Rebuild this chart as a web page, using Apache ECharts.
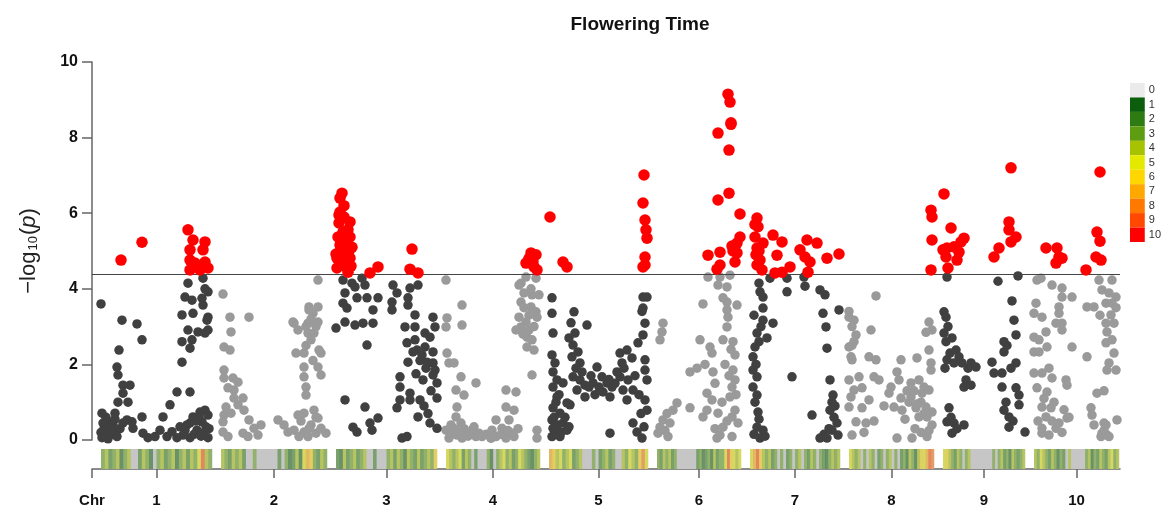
<!DOCTYPE html>
<html><head><meta charset="utf-8">
<script src="https://cdn.jsdelivr.net/npm/echarts@6/dist/echarts.min.js"></script>
<style>html,body{margin:0;padding:0;background:#fff}#c{width:1164px;height:512px}</style>
</head><body><div id="c"></div>
<script>
// ---------------- DATA ----------------
const TITLE = 'Flowering Time';
const CHROMOSOMES = ['1','2','3','4','5','6','7','8','9','10'];
const CHR_LENGTHS = [111, 106, 101, 94, 99, 84, 90, 85, 82, 85];   // genome units (relative)
const CHR_GAP = 9;
const LEAD = 9;
const THRESHOLD = 4.38;
const Y_MIN = 0, Y_MAX = 10, Y_STEP = 2;
const DENSITY_LEVELS = ['0','1','2','3','4','5','6','7','8','9','10'];
const DENSITY_COLORS = ['#ebebeb','#0b5e0b','#2e7b14','#5e9c12','#a6c200','#e3ea00','#ffd600','#ffa800','#ff7800','#ff4800','#ff0000'];

// [position within chromosome, -log10(p)]
const chr1 = [
[20,4.76],[41,5.23],[87,5.56],[92,5.29],[104,5.24],[89,5.03],[102,5.03],[89,4.76],[94,4.68],[104,4.71],[107,4.55],[89,4.5],[99,4.5],[92,4.58],
[87,4.15],[102,4.28],[104,4.0],[107,3.92],[84,3.78],[91,3.7],[101,3.75],[102,3.57],[81,3.31],[92,3.35],[107,3.25],[106,3.17],[87,2.91],[97,2.86],[104,2.83],[107,2.91],[81,2.6],[91,2.65],[89,2.43],[81,2.06],[0,3.6],[21,3.17],[36,3.07],[41,2.65],[18,2.38],[16,1.93],[17,1.72],[22,1.45],[29,1.45],[22,1.24],[76,1.27],[89,1.27],[17,1.0],[27,1.0],[69,0.93],[1,0.71],[14,0.71],[26,0.53],[41,0.61],[62,0.61],
[2,0.45],[9,0.35],[4,0.18],[12,0.22],[1,0.06],[7,0.03],[16,0.09],[22,0.45],[31,0.48],[32,0.31],[42,0.18],[47,0.06],[54,0.09],[59,0.26],[66,0.09],[71,0.22],[76,0.06],[79,0.35],[84,0.26],[89,0.45],[92,0.61],[99,0.74],[104,0.79],[107,0.66],[101,0.48],[96,0.26],[102,0.18],[107,0.06],[89,0.06],[82,0.13],
[3,0.3],[6,0.5],[10,0.15],[5,0.6],[8,0.25],[12,0.4],[14,0.55],[19,0.3],[0,0.2],[3,0.12],[95,0.5],[98,0.62],[105,0.35],[86,0.4],[93,0.15],[100,0.1],[108,0.3]
];
const chr2 = [
[2,3.86],[97,4.23],[9,3.25],[28,3.25],[10,2.86],[3,2.46],[9,2.38],[3,1.85],[3,1.64],[12,1.64],[17,1.53],[7,1.38],[13,1.32],[13,1.11],[22,1.11],[17,0.93],[5,0.87],[23,0.79],[3,0.66],[10,0.71],[2,0.48],[28,0.53],[33,0.31],[40,0.4],[2,0.21],[22,0.18],[27,0.09],[37,0.13],[7,0.09],
[88,3.52],[97,3.52],[92,3.35],[73,3.09],[77,2.91],[87,3.09],[97,3.12],[87,2.83],[93,2.83],[90,2.65],[75,2.3],[83,2.3],[98,2.38],[100,2.3],[83,1.93],[97,1.93],[100,1.72],[83,1.67],[85,1.4],[85,1.19],[57,0.53],[63,0.4],[67,0.21],[73,0.26],[77,0.66],[83,0.71],[93,0.79],[97,0.58],[90,0.4],[83,0.21],[78,0.09],[87,0.09],[95,0.18],[105,0.18],[100,0.31],[72,3.12],[88,3.44],[85,3.0],[90,3.2],[95,3.0],[85,2.5],[92,2.1],[80,0.5],[88,0.3],[95,0.6]
];
const chr3 = [
[6,6.53],[4,6.4],[4,6.03],[3,5.74],[14,5.77],[7,5.5],[12,5.56],[2,5.37],[9,5.34],[14,5.37],[4,5.16],[11,5.16],[16,5.1],[6,4.97],[12,4.95],[1,4.81],[9,4.76],[14,4.81],[1,4.55],[11,4.55],[12,4.44],[34,4.42],[42,4.58],[76,5.05],[74,4.52],[82,4.42],[0,4.92],[8,5.9],[10,5.25],[13,5.0],[5,5.05],[10,4.65],[7,4.62],[15,4.6],[3,5.95],[8,6.2],
[7,4.23],[16,4.15],[26,4.28],[19,4.05],[29,4.1],[9,3.89],[21,3.76],[31,3.76],[42,3.76],[7,3.62],[11,3.49],[37,3.44],[57,4.1],[61,3.89],[56,3.65],[56,3.44],[74,4.02],[82,4.1],[72,3.76],[72,3.57],[9,3.12],[0,2.96],[19,3.04],[27,3.09],[37,3.09],[31,2.51],[79,3.31],[97,3.25],[99,2.99],[69,2.99],[79,2.99],[71,2.57],[79,2.65],[89,2.83],[94,2.72],[81,2.38],[89,2.46],[97,2.33],[77,2.33],[72,2.06],[86,2.25],[91,2.06],[97,2.04],[99,1.85],[97,1.72],[87,1.59],[101,1.51],[101,1.11],[84,1.06],[74,1.24],[74,1.06],[64,1.67],[64,1.4],[64,1.06],[61,0.85],[9,1.06],[29,0.87],[34,0.45],[42,0.58],[36,0.26],[17,0.34],[21,0.21],[82,0.61],[94,0.45],[101,0.31],[66,0.05],[71,0.09],[84,2.1],[90,1.9],[80,1.75],[95,1.3],[88,0.9],[92,0.7]
];
const chr4 = [
[80,4.68],[85,4.95],[90,4.9],[88,4.58],[91,4.5],[83,4.8],[87,4.72],
[0,4.23],[16,3.57],[1,3.23],[0,2.99],[16,3.04],[1,2.3],[3,2.04],[8,2.04],[15,1.67],[30,1.51],[10,1.32],[18,1.19],[11,0.87],[10,0.61],[15,0.45],[0,0.26],[6,0.18],[20,0.18],[26,0.26],[33,0.18],[3,0.05],[16,0.05],[30,0.09],[36,0.09],[11,0.13],[8,0.3],[13,0.22],[22,0.1],[28,0.35],[40,0.15],[45,0.05],[5,0.4],[18,0.3],
[60,1.32],[70,1.27],[60,0.87],[68,0.79],[50,0.53],[63,0.53],[46,0.26],[56,0.31],[66,0.18],[50,0.09],[60,0.05],[68,0.09],[45,0.05],[55,0.15],[62,0.25],[72,0.3],[86,1.72],[91,0.26],[91,0.05],
[80,4.31],[90,4.28],[75,4.15],[78,3.89],[86,3.84],[93,3.84],[75,3.65],[85,3.52],[90,3.39],[91,3.25],[73,3.25],[80,3.12],[75,2.99],[83,2.91],[70,2.91],[81,2.72],[86,2.65],[81,2.46],[88,2.38],[78,3.5],[83,3.3],[88,3.0],[73,4.1],[85,4.0],[77,2.8]
];
const chr5 = [
[1,5.9],[14,4.71],[18,4.58],[95,7.01],[94,6.27],[96,5.82],[97,5.56],[98,5.34],[96,4.84],[96,4.63],[94,4.58],
[3,3.76],[3,3.35],[4,2.83],[3,2.25],[6,2.04],[4,1.8],[8,1.59],[4,1.4],[14,1.51],[8,1.14],[18,0.98],[4,0.85],[11,0.71],[3,0.53],[14,0.45],[4,0.31],[18,0.26],[3,0.09],[11,0.09],[21,0.93],[25,3.39],[38,3.04],[26,2.83],[24,2.51],[29,2.33],[23,2.2],[31,2.04],[24,1.67],[31,1.59],[36,1.45],[28,1.32],[36,1.14],[48,1.93],[53,1.67],[58,1.51],[44,1.51],[54,1.27],[61,1.14],[63,1.4],[71,2.3],[78,2.38],[73,2.04],[83,2.17],[71,1.67],[79,1.59],[74,1.32],[84,1.32],[78,1.06],[61,0.18],[89,2.57],[94,2.78],[96,3.09],[94,3.49],[94,3.78],[98,3.78],[93,3.4],[96,2.12],[96,1.85],[98,1.59],[96,1.06],[98,0.79],[84,0.45],[88,0.21],[93,0.05],
[5,0.6],[9,0.4],[12,0.2],[7,1.0],[10,1.2],[16,0.6],[20,0.35],[6,0.15],[42,1.7],[50,1.4],[66,1.5],[68,1.8],[75,1.9],[86,1.7],[90,1.2],[92,0.7],[95,0.35],[60,1.6],[46,1.2],[40,1.4],[33,1.8],[27,1.9],[20,2.7],[22,3.1]
];
const chr6 = [
[71,9.15],[73,8.94],[74,8.39],[61,8.12],[72,7.67],[72,6.53],[61,6.35],[83,5.98],[83,5.37],[80,5.21],[75,5.13],[63,4.97],[51,4.89],[80,4.95],[78,4.71],[63,4.63],[60,4.52],[74,8.35],[76,5.0],
[51,4.31],[63,4.31],[73,4.36],[61,4.1],[70,4.05],[66,3.76],[70,3.65],[80,3.57],[70,3.44],[71,3.25],[46,3.6],[70,2.99],[66,2.65],[76,2.6],[43,2.65],[53,2.46],[55,2.3],[78,2.25],[33,1.8],[56,1.8],[76,1.85],[78,1.59],[75,1.4],[50,1.24],[55,1.06],[73,1.14],[78,0.79],[75,0.61],[61,0.71],[46,0.61],[50,0.79],[81,0.45],[66,0.34],[63,0.13],[60,0.05],[75,0.09],[33,0.85],[6,3.09],[5,2.86],[3,2.65],[20,0.98],[16,0.79],[10,0.7],[6,0.53],[3,0.34],[1,0.18],[11,0.09],[13,0.45],[8,0.25],
[68,2.0],[72,1.7],[65,1.0],[70,0.5],[58,0.3],[79,1.2],[74,2.4],[40,1.9],[48,2.0],[58,1.5]
];
const chr7 = [
[7,5.87],[8,5.64],[5,5.37],[13,5.21],[7,5.08],[10,4.76],[7,4.63],[12,4.5],[23,5.42],[32,5.24],[27,4.89],[25,4.42],[32,4.44],[40,4.58],[57,5.29],[67,5.21],[50,5.03],[55,4.84],[60,4.71],[58,4.44],[77,4.81],[89,4.92],[5,5.7],[9,5.0],[6,4.9],
[9,4.15],[10,3.92],[20,4.28],[37,4.28],[37,3.92],[54,4.31],[55,4.07],[70,3.97],[75,3.84],[89,3.44],[73,3.35],[76,2.99],[77,2.43],[42,1.67],[13,3.78],[13,3.49],[13,3.17],[23,3.09],[17,2.7],[7,2.83],[5,2.46],[3,2.2],[3,1.85],[7,1.67],[3,1.4],[7,1.19],[8,0.74],[7,0.34],[13,0.26],[10,0.05],[80,1.59],[83,1.19],[82,1.0],[80,0.79],[87,0.45],[82,0.26],[77,0.05],[70,0.05],[88,0.13],[62,0.66],[5,1.0],[9,0.55],[4,0.15],[15,0.1],[84,0.6],[79,0.3],[74,0.15],[85,0.9],[6,2.0],[9,2.6],[11,3.0],[4,3.3]
];
const chr8 = [
[82,6.08],[83,5.9],[83,5.29],[82,4.5],
[27,3.81],[0,3.25],[5,3.17],[3,3.0],[7,2.78],[5,2.6],[0,2.46],[2,2.2],[3,2.12],[20,2.2],[27,2.12],[22,2.91],[0,1.59],[10,1.67],[25,1.67],[30,1.59],[5,1.32],[13,1.38],[2,1.14],[20,1.06],[0,0.87],[13,0.85],[7,0.48],[17,0.45],[3,0.13],[52,2.12],[68,2.17],[50,1.59],[62,1.51],[70,1.59],[40,1.24],[52,1.11],[62,1.14],[73,1.24],[80,1.32],[45,0.87],[53,0.79],[60,1.0],[67,0.85],[77,0.87],[70,0.61],[78,0.61],[83,0.74],[83,0.4],[48,0.05],[63,0.05],[78,0.09],[82,1.85],[82,2.04],[80,2.38],[83,2.91],[80,3.12],[77,2.85],[0,3.4],[3,2.5],[65,1.3],[72,1.0],[75,1.4],[58,1.3],[68,0.95],[75,0.7],[66,0.3],[72,0.2],[56,0.55],[80,0.25],[35,0.9],[42,1.4],[48,1.8],[15,0.2],[25,0.5]
];
const chr9 = [
[1,6.51],[8,5.61],[0,5.03],[4,5.08],[11,5.11],[18,5.24],[21,5.34],[3,4.84],[14,4.76],[5,4.55],[16,4.97],[51,4.84],[56,5.08],[66,5.77],[66,5.56],[68,5.24],[73,5.37],[68,7.2],
[4,4.31],[55,4.2],[75,4.34],[1,3.39],[3,3.25],[1,2.83],[3,2.6],[9,2.7],[13,2.38],[4,2.12],[11,2.04],[19,2.04],[28,2.04],[33,1.93],[23,1.59],[21,1.4],[28,1.45],[6,0.85],[4,0.48],[11,0.45],[21,0.4],[9,0.18],[69,3.68],[71,3.17],[73,2.78],[61,2.6],[61,2.33],[49,2.06],[51,1.77],[59,1.77],[73,2.04],[59,1.4],[73,1.38],[76,1.19],[76,0.93],[61,0.79],[66,0.61],[66,0.34],[82,0.21],[7,2.3],[16,2.2],[25,1.9],[5,3.0],[2,1.9],[8,0.6],[14,0.3],[63,1.0],[68,1.9],[64,2.5],[70,0.5]
];
const chr10 = [
[12,5.08],[23,5.08],[25,4.84],[22,4.68],[28,4.81],[52,4.5],[62,4.84],[67,4.76],[63,5.5],[66,5.26],[66,7.09],
[3,4.23],[7,4.28],[18,4.1],[28,4.02],[28,3.78],[38,3.78],[2,3.62],[25,3.52],[0,3.35],[8,3.25],[25,3.35],[22,3.09],[28,3.09],[12,2.86],[28,2.91],[0,2.72],[5,2.65],[13,2.46],[0,2.33],[5,2.33],[38,2.46],[15,1.9],[0,1.77],[8,1.77],[18,1.64],[32,1.59],[33,1.45],[3,1.38],[13,1.27],[8,0.87],[17,0.85],[12,0.61],[25,0.45],[33,0.58],[22,0.31],[8,0.31],[8,0.18],[15,0.13],
[65,4.23],[78,4.23],[68,3.97],[75,3.89],[82,3.78],[72,3.62],[78,3.62],[53,3.52],[60,3.52],[77,3.31],[72,3.09],[80,3.09],[73,2.86],[72,2.57],[78,2.65],[53,2.2],[75,2.04],[82,1.85],[73,1.85],[63,1.24],[57,0.85],[58,0.66],[70,0.45],[68,0.18],[73,0.13],[67,0.09],[75,0.09],[83,0.53],[70,0.25],[72,0.4],[10,1.1],[20,1.0],[30,0.8],[35,0.6],[4,0.5],[18,0.5],[28,0.2],[80,2.3],[82,3.5],[66,3.3],[70,1.3],[60,0.4]
];
const CHR_POINTS = [chr1, chr2, chr3, chr4, chr5, chr6, chr7, chr8, chr9, chr10];

// SNP density level per bin along each chromosome (30 bins each)
const density1  = [3,4,2,3,4,1,3,4,0,0,2,4,3,1,0,3,4,2,3,4,1,3,4,2,4,3,5,9,4,3];
const density2  = [4,3,2,4,3,4,2,0,0,3,0,0,0,0,0,0,2,0,3,1,2,4,1,5,7,6,3,2,4,3];
const density3  = [2,1,4,2,3,4,2,3,4,0,0,2,0,0,0,3,4,2,4,3,1,4,3,2,4,2,3,4,3,6];
const density4  = [5,4,3,4,5,2,4,3,0,2,0,0,0,3,1,0,3,4,5,3,4,2,3,5,4,3,2,1,3,4];
const density5  = [7,6,4,5,3,4,5,2,3,4,0,0,0,3,0,2,3,4,2,3,0,0,4,3,5,4,3,6,8,5];
const density6  = [3,2,4,3,4,2,3,0,0,0,0,0,0,0,2,3,1,2,3,1,4,2,3,3,5,9,6,5,4,5];
const density7  = [5,7,9,6,4,3,4,2,3,0,3,0,2,3,0,3,4,0,3,2,4,3,0,3,2,1,3,4,3,4];
const density8  = [5,4,3,4,0,3,0,4,3,0,2,3,0,3,4,0,3,0,2,3,1,4,3,1,4,6,5,7,9,8];
const density9  = [5,6,4,3,2,4,3,0,3,4,0,0,0,0,0,0,0,0,3,0,3,4,2,3,1,4,3,2,3,4];
const density10 = [4,3,5,4,3,2,4,3,1,3,2,0,4,0,0,0,0,0,3,4,1,3,2,4,3,2,4,5,3,4];
const CHR_DENSITY = [density1,density2,density3,density4,density5,density6,density7,density8,density9,density10];

// ---------------- BUILD ----------------
const offsets = [];
let acc = LEAD;
CHR_LENGTHS.forEach((L, i) => { offsets.push(acc); acc += L + CHR_GAP; });
const XMAX = acc - CHR_GAP + 1;
const centers = CHR_LENGTHS.map((L, i) => offsets[i] + L / 2);
const tickVals = [0].concat(centers);
const tickLabel = {};
tickLabel[(0).toFixed(3)] = 'Chr';
centers.forEach((c, i) => { tickLabel[c.toFixed(3)] = CHROMOSOMES[i]; });

const darkPts = [], lightPts = [], sigPts = [];
CHR_POINTS.forEach((arr, i) => {
  arr.forEach(p => {
    const pt = [offsets[i] + p[0], p[1]];
    if (p[1] > THRESHOLD) sigPts.push(pt);
    else if (i % 2 === 0) darkPts.push(pt);
    else lightPts.push(pt);
  });
});

const stripData = [];
CHR_DENSITY.forEach((bins, i) => {
  const w = CHR_LENGTHS[i] / bins.length;
  stripData.push([offsets[i], offsets[i] + CHR_LENGTHS[i], -1]);
  bins.forEach((lv, b) => {
    if (lv > 0) stripData.push([offsets[i] + b * w, offsets[i] + (b + 1) * w, lv]);
  });
});

const FONT = 'Liberation Sans, Arial, Helvetica, sans-serif';
const chart = echarts.init(document.getElementById('c'), null, {renderer: 'canvas'});
chart.setOption({
  animation: false,
  backgroundColor: '#fff',
  title: {
    text: TITLE, left: 635, top: 10, textAlign: 'center',
    textStyle: {fontFamily: FONT, fontSize: 19, fontWeight: 'bold', color: '#111'}
  },
  grid: [
    {left: 92, right: 44, top: 62, height: 378},
    {left: 92, right: 44, top: 449, height: 20},
    {left: 1130, width: 15, top: 83, height: 159}
  ],
  xAxis: [
    {gridIndex: 0, type: 'value', min: 0, max: XMAX, show: false},
    {gridIndex: 1, type: 'value', min: 0, max: XMAX, offset: 5,
     axisLine: {show: true, lineStyle: {color: '#666', width: 1.5}},
     axisTick: {show: true, customValues: tickVals, length: 9, lineStyle: {color: '#666', width: 1.5}},
     axisLabel: {customValues: tickVals, margin: 19, fontFamily: FONT, fontSize: 15, fontWeight: 'bold', color: '#111',
       formatter: v => tickLabel[Number(v).toFixed(3)] || ''},
     splitLine: {show: false}},
    {gridIndex: 2, type: 'value', min: 0, max: 1, show: false}
  ],
  yAxis: [
    {gridIndex: 0, type: 'value', min: Y_MIN, max: Y_MAX, interval: Y_STEP,
     name: '−log{s|10}({i|p})', nameLocation: 'middle', nameGap: 52, nameRotate: 90,
     nameTextStyle: {fontFamily: FONT, fontSize: 22, color: '#222',
       rich: {s: {fontFamily: FONT, fontSize: 13, color: '#222', padding: [9, 1, 0, 1]},
              i: {fontFamily: FONT, fontSize: 22, fontStyle: 'italic', color: '#222'}}},
     axisLine: {show: true, lineStyle: {color: '#666', width: 1.5}},
     axisTick: {show: true, length: 10, lineStyle: {color: '#666', width: 1.5}},
     axisLabel: {margin: 14, fontFamily: FONT, fontSize: 16, fontWeight: 'bold', color: '#111'},
     splitLine: {show: false}},
    {gridIndex: 1, type: 'value', min: 0, max: 1, show: false},
    {gridIndex: 2, type: 'category', data: DENSITY_LEVELS, inverse: true, position: 'right',
     axisLine: {show: false}, axisTick: {show: false},
     axisLabel: {margin: 4, fontFamily: FONT, fontSize: 11, color: '#333'}}
  ],
  series: [
    {type: 'scatter', xAxisIndex: 0, yAxisIndex: 0, data: lightPts, symbolSize: 9.5,
     itemStyle: {color: '#9a9a9a', opacity: 1}, silent: true},
    {type: 'scatter', xAxisIndex: 0, yAxisIndex: 0, data: darkPts, symbolSize: 9.5,
     itemStyle: {color: '#404040', opacity: 1}, silent: true,
     markLine: {silent: true, symbol: ['none', 'none'], label: {show: false},
       lineStyle: {color: '#444', width: 1.2, type: 'solid', opacity: 1}, data: [{yAxis: THRESHOLD}]}},
    {type: 'scatter', xAxisIndex: 0, yAxisIndex: 0, data: sigPts, symbolSize: 11.5,
     itemStyle: {color: '#ff0000', opacity: 1}, silent: true, z: 5},
    {type: 'custom', xAxisIndex: 1, yAxisIndex: 1, data: stripData, silent: true,
     renderItem: function (params, api) {
       const lv = api.value(2);
       const a = api.coord([api.value(0), 1]);
       const b = api.coord([api.value(1), 0]);
       return {type: 'rect', shape: {x: a[0], y: a[1], width: b[0] - a[0] + 0.2, height: b[1] - a[1]},
         style: {fill: lv < 0 ? '#c6c6c6' : DENSITY_COLORS[lv], opacity: lv < 0 ? 1 : 0.5}};
     }},
    {type: 'bar', xAxisIndex: 2, yAxisIndex: 2, barWidth: '100%', silent: true,
     data: DENSITY_LEVELS.map((l, i) => ({value: 1, itemStyle: {color: DENSITY_COLORS[i]}}))}
  ]
});
</script></body></html>
